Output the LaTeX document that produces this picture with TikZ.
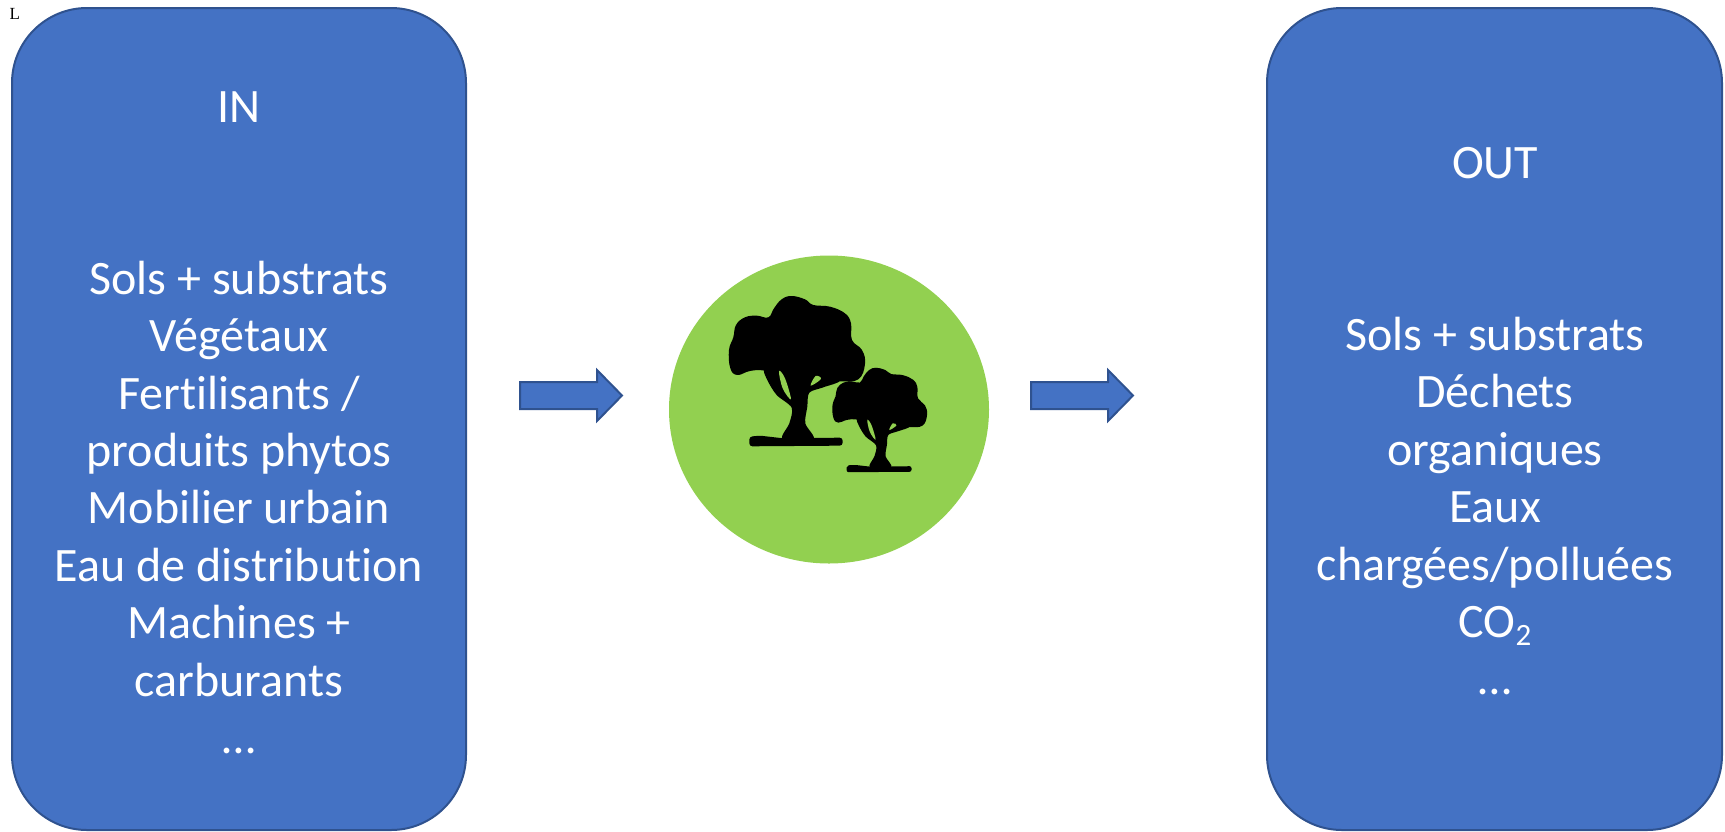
\documentclass[tikz,border=0pt]{standalone}
\usepackage{fontspec}
\setmainfont[Ligatures=NoCommon]{Carlito}
\newfontfamily\markfont{Liberation Serif}
\definecolor{boxblue}{HTML}{4472C4}
\definecolor{boxedge}{HTML}{2F528F}
\definecolor{leaf}{HTML}{92D050}
\tikzset{
  panel/.style={draw=boxedge,line width=2pt,fill=boxblue,rounded corners=75pt},
  paneltext/.style={text=white,align=center,inner sep=0pt,anchor=north,
    font=\fontsize{48}{57.4}\selectfont},
  flowarrow/.style={draw=boxedge,line width=2pt,fill=boxblue,line join=miter},
  disc/.style={fill=leaf,draw=none},
  treeink/.style={fill=black,draw=none},
  treegap/.style={fill=leaf,draw=none}
}
\newcommand{\treeshape}[1]{%
  % canopy outline with its lobes
  \fill[treeink] plot[smooth cycle,tension=0.7] coordinates {
    (237,330) (241,385) (262,405) (300,393) (345,392) (430,410) (520,420) (570,424)
    (625,418) (645,372) (636,330) (606,300) (603,250) (585,220) (540,200) (490,195)
    (465,178) (425,168) (395,178) (372,205) (355,232) (320,227) (285,232) (258,255) (250,292)};
  % branches and trunk
  \fill[treeink] plot[smooth cycle,tension=0.5] coordinates {
    (345,385) (352,420) (380,465) (425,503) (418,550) (398,597) (490,597)
    (466,550) (472,500) (478,458) (520,442) (570,420) (500,380) (420,370)};
  % ground bar
  \fill[treeink,rounded corners=#1] (298,590) -- (330,587) -- (400,595) -- (578,593)
    -- (578,617) -- (298,619) -- cycle;
  % gaps between branches and trunk
  \fill[treegap] plot[smooth cycle,tension=0.6] coordinates {(387,393) (405,415) (423,478) (398,445)};
  \fill[treegap] plot[smooth cycle,tension=0.6] coordinates {(482,437) (497,408) (513,417)};
}
\begin{document}
\begin{tikzpicture}[x=1pt,y=-1pt]
\useasboundingbox (0,0) rectangle (1725,831);
% side panels
\draw[panel] (12,8) rectangle (466,830);
\draw[panel] (1267,8) rectangle (1722,830);
\node[paneltext] (intext) at (239,91) {IN\\ ~\\ ~\\ Sols + substrats\\ Végétaux\\ Fertilisants /\\ produits phytos\\ Mobilier urbain\\ Eau de distribution\\ Machines +\\ carburants\\ …};
\node[paneltext] (outtext) at (1495,147) {OUT\\ ~\\ ~\\ Sols + substrats\\ Déchets\\ organiques\\ Eaux\\ chargées/polluées\\ CO\smash{\raisebox{-0.17em}{\fontsize{31}{31}\selectfont 2}}\\ …};
% label
\node[inner sep=0pt,anchor=base west,text=black,font=\markfont\fontsize{17}{17}\selectfont] (mark) at (9.5,19) {L};
% arrows
\draw[flowarrow] (520,382) -- (597,382) -- (597,370) -- (622,395.5) -- (597,421) -- (597,409) -- (520,409) -- cycle;
\draw[flowarrow] (1031,382) -- (1108,382) -- (1108,370) -- (1133,395.5) -- (1108,421) -- (1108,409) -- (1031,409) -- cycle;
% central disc
\fill[disc] (829,409.5) ellipse [x radius=160,y radius=154];
% trees (drawn in a 3x working grid)
\begin{scope}[shift={(650,240)},x=0.3333pt,y=-0.3333pt]
  \treeshape{3pt}
\end{scope}
\begin{scope}[shift={(650,240)},x=0.3333pt,y=-0.3333pt]
  \begin{scope}[shift={(590,687)},x=0.2317pt,y=-0.2317pt,shift={(-298,-605)}]
    \treeshape{2pt}
  \end{scope}
\end{scope}
\end{tikzpicture}
\end{document}
